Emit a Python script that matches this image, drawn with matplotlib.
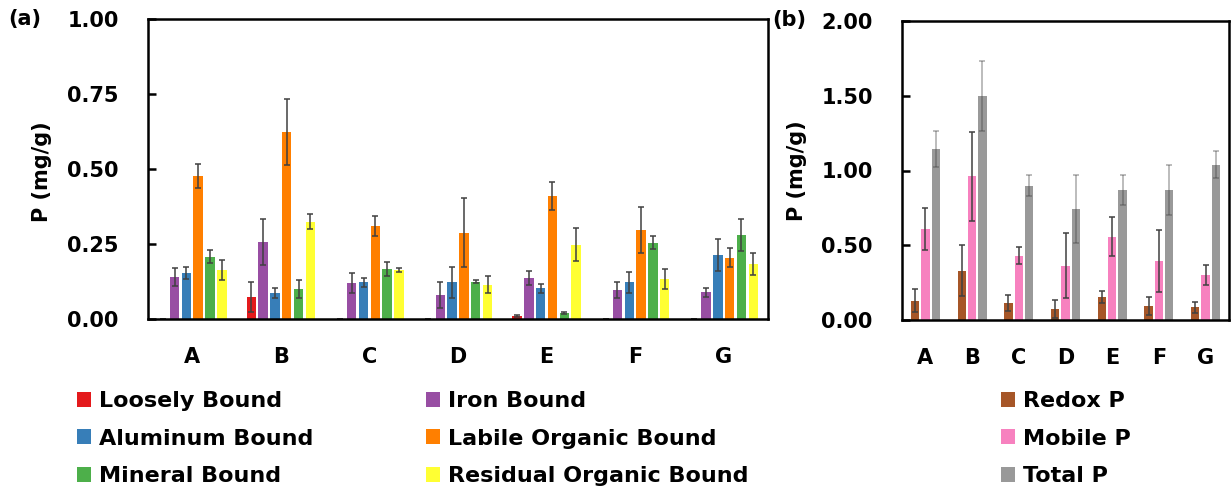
import numpy as np
import matplotlib
matplotlib.use('Agg')
import matplotlib.pyplot as plt
from matplotlib.patches import Patch

plt.rcParams['font.family'] = 'DejaVu Sans'
plt.rcParams['font.weight'] = 'bold'

sites = ['A', 'B', 'C', 'D', 'E', 'F', 'G']

# panel (a) fractions, mg/g
loosely = [0.0, 0.074, 0.0, 0.0, 0.011, 0.0, 0.0]
iron = [0.139, 0.258, 0.119, 0.080, 0.137, 0.097, 0.089]
alum = [0.155, 0.087, 0.122, 0.122, 0.102, 0.122, 0.214]
labile = [0.478, 0.624, 0.310, 0.287, 0.410, 0.298, 0.205]
mineral = [0.208, 0.100, 0.167, 0.125, 0.020, 0.255, 0.280]
residual = [0.164, 0.325, 0.163, 0.114, 0.248, 0.133, 0.183]

loosely_err = [0.0, 0.050, 0.0, 0.0, 0.004, 0.0, 0.0]
iron_err = [0.030, 0.077, 0.033, 0.042, 0.022, 0.028, 0.016]
alum_err = [0.020, 0.018, 0.015, 0.053, 0.015, 0.036, 0.053]
labile_err = [0.040, 0.110, 0.032, 0.115, 0.048, 0.077, 0.031]
mineral_err = [0.022, 0.030, 0.024, 0.006, 0.004, 0.022, 0.052]
residual_err = [0.033, 0.025, 0.006, 0.028, 0.054, 0.033, 0.036]

# panel (b)
redox = [0.130, 0.330, 0.112, 0.074, 0.152, 0.096, 0.085]
mobile = [0.609, 0.960, 0.431, 0.364, 0.558, 0.397, 0.300]
total = [1.145, 1.496, 0.897, 0.743, 0.870, 0.870, 1.038]

redox_err = [0.075, 0.170, 0.053, 0.060, 0.040, 0.060, 0.038]
mobile_err = [0.140, 0.300, 0.056, 0.216, 0.130, 0.208, 0.067]
total_err = [0.120, 0.234, 0.070, 0.230, 0.100, 0.165, 0.090]

names_a = ['Loosely Bound', 'Iron Bound', 'Aluminum Bound',
           'Labile Organic Bound', 'Mineral Bound', 'Residual Organic Bound']
cols_a = ['#e41a1c', '#984ea3', '#377eb8', '#ff7f00', '#4daf4a', '#ffff33']
series_a = [loosely, iron, alum, labile, mineral, residual]
errs_a = [loosely_err, iron_err, alum_err, labile_err, mineral_err, residual_err]

names_b = ['Redox P', 'Mobile P', 'Total P']
cols_b = ['#a65628', '#f781bf', '#999999']
series_b = [redox, mobile, total]
errs_b = [redox_err, mobile_err, total_err]

W, H = 1231, 492
fig = plt.figure(figsize=(W / 100, H / 100), dpi=100)
ax1 = fig.add_axes([148 / W, 1 - 319 / H, 620 / W, 300 / H])
ax2 = fig.add_axes([902 / W, 1 - 320 / H, 327 / W, 299 / H])

fs = 15
x = np.arange(len(sites))

slot = 1 / 7.5
for i in range(6):
    ax1.bar(x + (i - 2.5) * slot, series_a[i], width=slot * 0.8, color=cols_a[i],
            yerr=errs_a[i], ecolor='#404040', capsize=2.5,
            error_kw=dict(elinewidth=1.1, capthick=1.1))

slot = 1 / 4.5
for i in range(3):
    ec = (0.25, 0.25, 0.25, 0.45) if i == 2 else '#404040'
    ax2.bar(x + (i - 1) * slot, series_b[i], width=slot * 0.8, color=cols_b[i],
            yerr=errs_b[i], ecolor=ec, capsize=2.5,
            error_kw=dict(elinewidth=1.1, capthick=1.1))

for ax, top, step in [(ax1, 1.0, 0.25), (ax2, 2.0, 0.5)]:
    ax.set_xlim(-0.5, 6.5)
    ax.set_ylim(0, top)
    ax.set_yticks(np.arange(0, top + 0.001, step))
    ax.set_yticklabels(['%.2f' % v for v in np.arange(0, top + 0.001, step)])
    ax.set_xticks(x)
    ax.set_xticklabels(sites)
    ax.tick_params(axis='y', direction='in', length=6, width=1.8, pad=21, labelsize=fs)
    ax.tick_params(axis='x', length=0, pad=20, labelsize=fs)
    for s in ax.spines.values():
        s.set_linewidth(1.8)
        s.set_color('black')

fig.text(42 / W, 1 - 172 / H, 'P (mg/g)', rotation=90, ha='center', va='center', fontsize=fs)
fig.text(797 / W, 1 - 171 / H, 'P (mg/g)', rotation=90, ha='center', va='center', fontsize=fs)
fig.text(8 / W, 1 - 19 / H, '(a)', ha='left', va='center', fontsize=fs)
fig.text(772 / W, 1 - 20 / H, '(b)', ha='left', va='center', fontsize=fs)

lfs = 16
leg_kw = dict(loc='upper left', frameon=False, fontsize=lfs, borderpad=0, borderaxespad=0,
              handlelength=0.65, handleheight=0.65, handletextpad=0.35, labelspacing=0.79)

def add_legend(idx, names, cols, x0):
    hs = [Patch(facecolor=cols[k], edgecolor='none') for k in idx]
    fig.legend(hs, [names[k] for k in idx], bbox_to_anchor=(x0 / W, 1 - 391 / H), **leg_kw)

add_legend([0, 2, 4], names_a, cols_a, 77)
add_legend([1, 3, 5], names_a, cols_a, 426)
add_legend([0, 1, 2], names_b, cols_b, 1001)

fig.savefig('out.png', dpi=100)
